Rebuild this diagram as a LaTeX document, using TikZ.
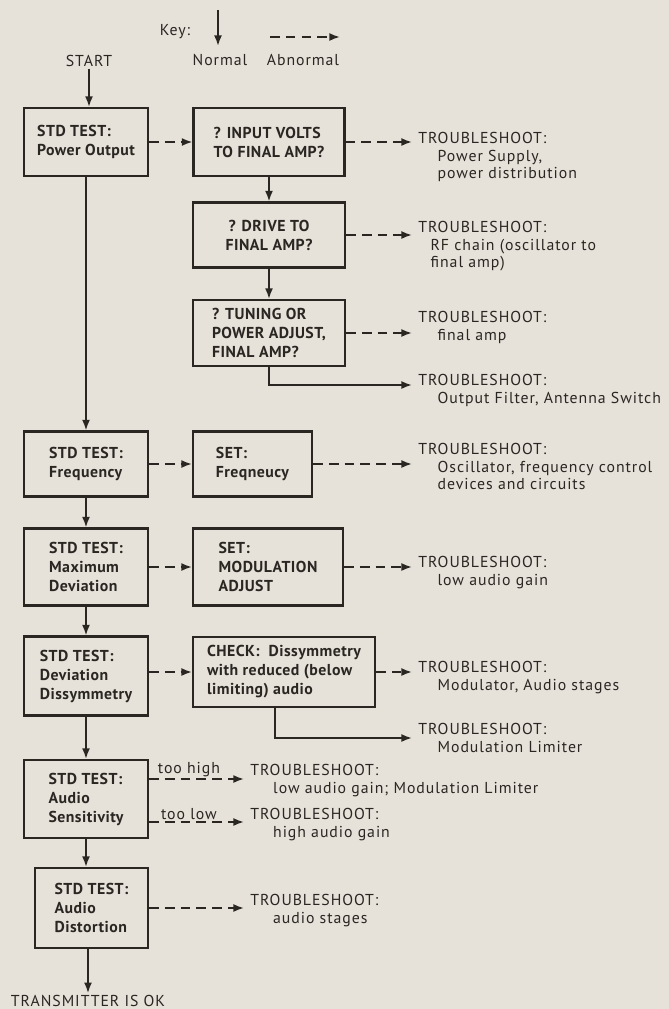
\documentclass[tikz,border=0pt]{standalone}
\usepackage{fontspec}
\setmainfont{PT Sans}
\newfontfamily\boxfont[LetterSpace=3]{PT Sans}
\newfontfamily\tsfont[LetterSpace=6]{PT Sans}
\usetikzlibrary{arrows.meta}
\definecolor{paper}{HTML}{E6E2DA}
\definecolor{ink}{HTML}{2A2622}

\tikzset{
  testbox/.style={draw=ink, text=ink, line width=1.2pt, align=left, inner sep=0pt,
    font={\boxfont\bfseries\fontsize{9}{10.8}\selectfont}},
  plain/.style={text=ink, inner sep=1pt, font={\tsfont\fontsize{9}{10}\selectfont}},
  tsnote/.style={plain, anchor=north west, align=left, inner xsep=0.12cm, inner ysep=0pt},
  okline/.style={draw=ink, line width=1pt, -{Latex[length=6pt,width=4.5pt]}},
  faultline/.style={okline, dash pattern=on 5.5pt off 3.5pt},
}

\begin{document}
\begin{tikzpicture}[x=0.02cm, y=-0.02cm]
  \fill[paper] (0,0) rectangle (669,1009);
  \useasboundingbox (0,0) rectangle (669,1009);

  % key
  \node[plain] (key) at (175,32) {Key:};
  \coordinate (kn1) at (218,10);
  \coordinate (kn2) at (218,46);
  \draw[okline] (kn1) -- (kn2);
  \node[plain] (nrm) at (220,60) {Normal};
  \coordinate (ka1) at (270,37);
  \coordinate (ka2) at (340,37);
  \draw[faultline] (ka1) -- (ka2);
  \node[plain] (abn) at (303,60) {Abnormal};

  % main column
  \node[plain] (start) at (89,61) {START};
  \node[testbox, minimum width=2.48cm, minimum height=1.36cm] (A1) at (86,142) {STD TEST:\\Power Output};
  \node[testbox, minimum width=2.48cm, minimum height=1.30cm] (A2) at (86,464) {STD TEST:\\Frequency};
  \node[testbox, minimum width=2.48cm, minimum height=1.54cm] (A3) at (86,567) {STD TEST:\\Maximum\\Deviation};
  \node[testbox, minimum width=2.48cm, minimum height=1.58cm] (A4) at (86,676) {STD TEST:\\Deviation\\Dissymmetry};
  \node[testbox, minimum width=2.48cm, minimum height=1.56cm] (A5) at (86,799) {STD TEST:\\Audio\\Sensitivity};
  \node[testbox, minimum width=2.26cm, minimum height=1.60cm] (A6) at (91.5,908) {STD TEST:\\Audio\\Distortion};
  \node[plain] (okay) at (88,1001) {TRANSMITTER IS OK};

  % second column
  \node[testbox, minimum width=3.02cm, minimum height=1.36cm] (B1) at (269,142) {? INPUT VOLTS\\TO FINAL AMP?};
  \node[testbox, align=center, minimum width=3.04cm, minimum height=1.30cm] (B2) at (269,235) {? DRIVE TO\\FINAL AMP?};
  \node[testbox, minimum width=3.04cm, minimum height=1.32cm] (B3) at (269,333) {? TUNING OR\\POWER ADJUST,\\FINAL AMP?};
  \node[testbox, minimum width=2.38cm, minimum height=1.30cm] (B4) at (252.5,464) {SET:\\Freqneucy};
  \node[testbox, minimum width=3.00cm, minimum height=1.54cm] (B5) at (268,567) {SET:\\MODULATION\\ADJUST};
  \node[testbox, anchor=west, inner xsep=0.28cm, minimum height=1.40cm] (B6) at (192,672) {CHECK:\ \ Dissymmetry\\with reduced (below\\limiting) audio};

  % troubleshoot notes
  \node[tsnote] (T1) at (412,132) {TROUBLESHOOT:\\\hspace*{11pt}Power Supply,\\\hspace*{11pt}power distribution};
  \node[tsnote] (T2) at (412,221) {TROUBLESHOOT:\\\hspace*{7pt}RF chain (oscillator to\\\hspace*{7pt}final amp)};
  \node[tsnote] (T3) at (412,311) {TROUBLESHOOT:\\\hspace*{11pt}final amp};
  \coordinate (filt) at (412,385);
  \node[tsnote] (T4) at (412,374) {TROUBLESHOOT:\\\hspace*{11pt}Output Filter, Antenna Switch};
  \node[tsnote] (T5) at (412,443) {TROUBLESHOOT:\\\hspace*{11pt}Oscillator, frequency control\\\hspace*{11pt}devices and circuits};
  \node[tsnote] (T6) at (412,556) {TROUBLESHOOT:\\\hspace*{11pt}low audio gain};
  \node[tsnote] (T7) at (412,661) {TROUBLESHOOT:\\\hspace*{11pt}Modulator, Audio stages};
  \coordinate (lim) at (412,738);
  \node[tsnote] (T8) at (412,723) {TROUBLESHOOT:\\\hspace*{11pt}Modulation Limiter};
  \node[tsnote] (T9) at (244,764) {TROUBLESHOOT:\\\hspace*{13pt}low audio gain; Modulation Limiter};
  \node[tsnote] (T10) at (244,808) {TROUBLESHOOT:\\\hspace*{13pt}high audio gain};
  \node[tsnote] (T11) at (244,894) {TROUBLESHOOT:\\\hspace*{13pt}audio stages};

  % normal flow
  \draw[okline] (start) -- (start |- A1.north);
  \draw[okline] (A1) -- (A2);
  \draw[okline] (A2) -- (A3);
  \draw[okline] (A3) -- (A4);
  \draw[okline] (A4) -- (A5);
  \draw[okline] (A5.south) -- (A5.south |- A6.north);
  \draw[okline] (A6.south -| okay) -- (okay);
  \draw[okline] (B1) -- (B2);
  \draw[okline] (B2) -- (B3);
  \draw[okline] (B3.south) |- (filt);
  \draw[okline] ([xshift=1.66cm]B6.south west) |- (lim);

  % abnormal flow
  \draw[faultline] (A1) -- (B1);
  \draw[faultline] (B1.east) -- (B1.east -| T1.west);
  \draw[faultline] (B2.east) -- (B2.east -| T2.west);
  \draw[faultline] (B3.east) -- (B3.east -| T3.west);
  \draw[faultline] (A2) -- (B4);
  \draw[faultline] (B4.east) -- (B4.east -| T5.west);
  \draw[faultline] (A3) -- (B5);
  \draw[faultline] (B5.east) -- (B5.east -| T6.west);
  \draw[faultline] (A4.east |- B6.west) -- (B6.west);
  \draw[faultline] (B6.east) -- (B6.east -| T7.west);
  \coordinate (hiA) at ([yshift=0.40cm]A5.east);
  \coordinate (loA) at ([yshift=-0.46cm]A5.east);
  \draw[faultline] (hiA) -- (hiA -| T9.west) node[plain, pos=0.42, above, name=hi] {too high};
  \draw[faultline] (loA) -- (loA -| T10.west) node[plain, pos=0.42, above, name=lo] {too low};
  \draw[faultline] (A6.east) -- (A6.east -| T11.west);
\end{tikzpicture}
\end{document}
